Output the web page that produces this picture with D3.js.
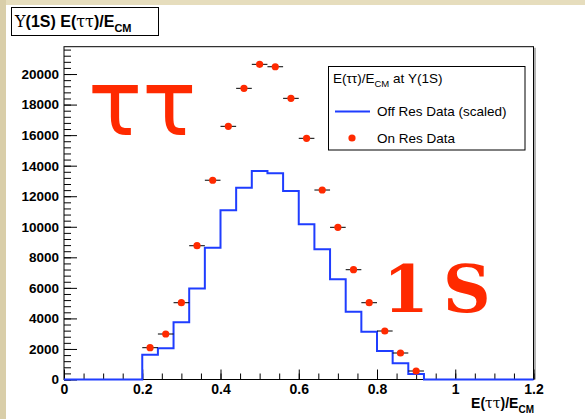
<!DOCTYPE html>
<html>
<head>
<meta charset="utf-8">
<script src="https://cdn.jsdelivr.net/npm/d3@7"></script>
<style>
  html, body { margin: 0; padding: 0; background: #fff; }
  svg text { font-family: "Liberation Sans", Arial, Helvetica, sans-serif; }
</style>
</head>
<body>
<div id="container"></div>
<script>
// histogram binning: 30 bins of 0.04 between 0 and 1.2
const nBins = 30, xMin = 0, xMax = 1.2;

// off resonance data (scaled), bin contents
const offRes = [0, 0, 0, 0, 0,
  1624, 2043, 3745, 5960, 8628, 11077, 12557, 13650, 13499, 12340,
  10160, 8524, 6560, 4439, 3129, 1866, 1060, 360,
  0, 0, 0, 0, 0, 0, 0];

// on resonance data, bin contents
const onRes = [0, 0, 0, 0, 0,
  2082, 2979, 5028, 8759, 13047, 16576, 19064, 20635, 20478, 18409,
  15791, 12406, 9964, 7188, 5028, 3175, 1735, 556,
  0, 0, 0, 0, 0, 0, 0];

const xTicks = [0, 0.2, 0.4, 0.6, 0.8, 1, 1.2];
const yTicks = [0, 2000, 4000, 6000, 8000, 10000, 12000, 14000, 16000, 18000, 20000];

const W = 585, H = 419;
const frame = { left: 64, right: 533.5, top: 46.7, bottom: 379.5 };
const yMax = 21790;
const binW = (xMax - xMin) / nBins;

const svg = d3.select('#container').append('svg')
  .attr('width', W)
  .attr('height', H);

// slide background strips
svg.append('rect').attr('x', 0).attr('y', 0).attr('width', W).attr('height', 5).attr('fill', '#e6ddbd');
svg.append('rect').attr('x', 0).attr('y', 0).attr('width', 6).attr('height', H).attr('fill', '#d9cea9');

const x = d3.scaleLinear().domain([xMin, xMax]).range([frame.left, frame.right]);
const y = d3.scaleLinear().domain([0, yMax]).range([frame.bottom, frame.top]);

// frame
svg.append('rect')
  .attr('x', frame.left).attr('y', frame.top)
  .attr('width', frame.right - frame.left)
  .attr('height', frame.bottom - frame.top)
  .attr('fill', '#fff')
  .attr('stroke', '#000')
  .attr('stroke-width', 1);
svg.append('line')
  .attr('x1', frame.right + 1.5).attr('x2', frame.right + 1.5)
  .attr('y1', frame.top + 1).attr('y2', frame.bottom)
  .attr('stroke', '#999').attr('stroke-width', 1.5);

// big annotations
svg.append('text')
  .attr('x', 88).attr('y', 135)
  .attr('font-size', 90)
  .attr('fill', '#ff2a00')
  .style('font-family', '"DejaVu Sans", sans-serif')
  .text('ττ');
const big = svg.append('text')
  .attr('y', 312)
  .attr('font-size', 66)
  .attr('font-weight', 'bold')
  .attr('fill', '#ff2a00')
  .style('font-family', '"DejaVu Serif", serif');
big.append('tspan').attr('x', 383).text('1');
big.append('tspan').attr('x', 443).text('S');

// minor ticks
const yMinor = d3.range(0, yMax, 400);
const xMinor = d3.range(0, xMax + 0.001, 0.05);

svg.append('g')
  .attr('transform', `translate(${frame.left},0)`)
  .call(d3.axisLeft(y).tickValues(yMinor).tickSize(-7).tickSizeOuter(0).tickFormat(''))
  .call(g => g.select('.domain').remove());
svg.append('g')
  .attr('transform', `translate(0,${frame.bottom})`)
  .call(d3.axisBottom(x).tickValues(xMinor).tickSize(-6).tickSizeOuter(0).tickFormat(''))
  .call(g => g.select('.domain').remove());

// major ticks + labels
const yAxis = svg.append('g')
  .attr('transform', `translate(${frame.left},0)`)
  .call(d3.axisLeft(y).tickValues(yTicks).tickSize(-13).tickSizeOuter(0).tickPadding(5).tickFormat(d3.format('d')));
yAxis.select('.domain').remove();
yAxis.selectAll('text')
  .attr('font-size', 13.5).attr('font-weight', 'bold').attr('fill', '#000')
  .style('font-family', '"Liberation Sans", Arial, sans-serif');

const xAxis = svg.append('g')
  .attr('transform', `translate(0,${frame.bottom})`)
  .call(d3.axisBottom(x).tickValues(xTicks).tickSize(-10).tickSizeOuter(0).tickPadding(5).tickFormat(d => d3.format('')(d)));
xAxis.select('.domain').remove();
xAxis.selectAll('text')
  .attr('font-size', 14).attr('font-weight', 'bold').attr('fill', '#000')
  .style('font-family', '"Liberation Sans", Arial, sans-serif');

// off res histogram as steps
const histPts = offRes.map((v, i) => [xMin + i * binW, v]);
histPts.push([xMax, offRes[offRes.length - 1]]);
svg.append('path')
  .datum(histPts)
  .attr('fill', 'none')
  .attr('stroke', '#1f3dff')
  .attr('stroke-width', 2)
  .attr('d', d3.line().x(d => x(d[0])).y(d => y(d[1])).curve(d3.curveStepAfter));

// on res points with error bars
const pts = onRes.map((v, i) => ({ c: xMin + (i + 0.5) * binW, v })).filter(d => d.v > 0);
const pg = svg.append('g');
pg.selectAll('line.ex').data(pts).enter().append('line')
  .attr('x1', d => x(d.c - binW / 2)).attr('x2', d => x(d.c + binW / 2))
  .attr('y1', d => y(d.v)).attr('y2', d => y(d.v))
  .attr('stroke', '#000').attr('stroke-width', 1);
pg.selectAll('line.ey').data(pts).enter().append('line')
  .attr('x1', d => x(d.c)).attr('x2', d => x(d.c))
  .attr('y1', d => y(d.v - Math.sqrt(d.v))).attr('y2', d => y(d.v + Math.sqrt(d.v)))
  .attr('stroke', '#000').attr('stroke-width', 1);
pg.selectAll('circle').data(pts).enter().append('circle')
  .attr('cx', d => x(d.c)).attr('cy', d => y(d.v))
  .attr('r', 3.6)
  .attr('fill', '#ff2a00');

// x axis title
svg.append('text')
  .attr('x', 534).attr('y', 408)
  .attr('text-anchor', 'end')
  .attr('font-size', 14).attr('font-weight', 'bold')
  .html('E(<tspan style="font-family:\'DejaVu Serif\',serif;font-weight:normal">ττ</tspan>)/E<tspan dy="5" font-size="10">CM</tspan>');

// title box
svg.append('rect')
  .attr('x', 11.5).attr('y', 7.5).attr('width', 147).attr('height', 28)
  .attr('fill', '#fff').attr('stroke', '#000').attr('stroke-width', 1);
svg.append('text')
  .attr('x', 15).attr('y', 27)
  .attr('font-size', 16).attr('font-weight', 'bold')
  .html('<tspan style="font-family:\'DejaVu Serif\',serif;font-weight:normal">Υ</tspan>(1S) E(<tspan style="font-family:\'DejaVu Serif\',serif;font-weight:normal">ττ</tspan>)/E<tspan dy="5" font-size="11">CM</tspan>');

// legend
const lg = svg.append('g');
lg.append('rect')
  .attr('x', 328.5).attr('y', 66.5).attr('width', 196.5).attr('height', 83.5)
  .attr('fill', '#fff').attr('stroke', '#000').attr('stroke-width', 1);
lg.append('text')
  .attr('x', 333).attr('y', 83)
  .attr('font-size', 13.5)
  .html('E(ττ)/E<tspan dy="4" font-size="9.5">CM</tspan><tspan dy="-4"> at Υ(1S)</tspan>');
lg.append('line')
  .attr('x1', 335).attr('x2', 370).attr('y1', 111.5).attr('y2', 111.5)
  .attr('stroke', '#1f3dff').attr('stroke-width', 2);
lg.append('text')
  .attr('x', 377).attr('y', 116)
  .attr('font-size', 13.5)
  .text('Off Res Data (scaled)');
lg.append('circle')
  .attr('cx', 352).attr('cy', 138).attr('r', 3.6).attr('fill', '#ff2a00');
lg.append('text')
  .attr('x', 377).attr('y', 143)
  .attr('font-size', 13.5)
  .text('On Res Data');
</script>
</body>
</html>
